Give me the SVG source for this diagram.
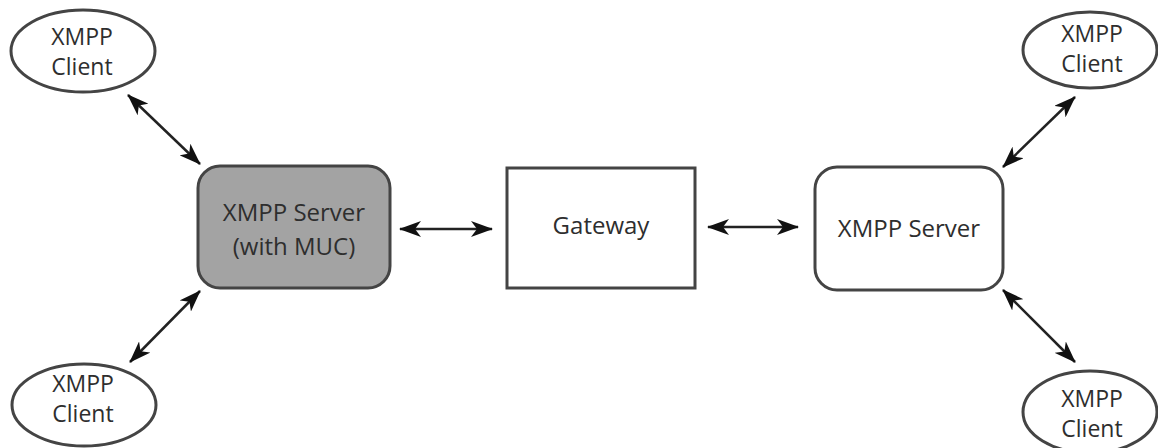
<svg xmlns="http://www.w3.org/2000/svg" width="1158" height="448" viewBox="0 0 1158 448">
<defs>
<style>
.client ellipse{fill:#fff;stroke:#444;stroke-width:3}
.box{stroke:#444;stroke-width:3}
text{font-family:"Open Sans","Noto Sans","Liberation Sans",sans-serif;font-size:24px;fill:#2e2e2e;text-anchor:middle}
.client text{font-size:23px}
.conn line{stroke:#222;stroke-width:2.5;marker-start:url(#ah);marker-end:url(#ah)}
</style>
<marker id="ah" viewBox="0 0 22 16" refX="21" refY="8" markerWidth="22" markerHeight="16" markerUnits="userSpaceOnUse" orient="auto-start-reverse">
<path d="M0,0 L22,8 L0,16 L6,8 Z" fill="#111"/>
</marker>
</defs>
<rect width="1158" height="448" fill="#fff"/>
<g id="client-tl" class="client">
<ellipse cx="83" cy="51" rx="72" ry="41"/>
<text x="82" y="45">XMPP</text>
<text x="82" y="75">Client</text>
</g>
<g id="client-tr" class="client">
<ellipse cx="1090" cy="50" rx="67" ry="38"/>
<text x="1092" y="42">XMPP</text>
<text x="1092" y="72">Client</text>
</g>
<g id="client-bl" class="client">
<ellipse cx="84" cy="405" rx="72" ry="41"/>
<text x="83" y="392">XMPP</text>
<text x="83" y="422">Client</text>
</g>
<g id="client-br" class="client">
<ellipse cx="1090" cy="412" rx="67" ry="41"/>
<text x="1092" y="407">XMPP</text>
<text x="1092" y="437">Client</text>
</g>
<g id="server-muc">
<rect class="box" x="198" y="166" width="192" height="122" rx="22" fill="#a3a3a3"/>
<text x="294" y="221">XMPP Server</text>
<text x="294" y="255">(with MUC)</text>
</g>
<g id="gateway">
<rect class="box" x="507" y="168" width="188" height="120" fill="#fff"/>
<text x="601" y="234">Gateway</text>
</g>
<g id="server">
<rect class="box" x="815" y="167" width="188" height="123" rx="22" fill="#fff"/>
<text x="909" y="237">XMPP Server</text>
</g>
<g id="connectors" class="conn">
<line x1="128" y1="95" x2="200" y2="164"/>
<line x1="200" y1="291" x2="130" y2="362"/>
<line x1="400" y1="229" x2="492" y2="229"/>
<line x1="708" y1="227" x2="798" y2="227"/>
<line x1="1075" y1="97" x2="1003" y2="167"/>
<line x1="1003" y1="290" x2="1075" y2="362"/>
</g>
</svg>
